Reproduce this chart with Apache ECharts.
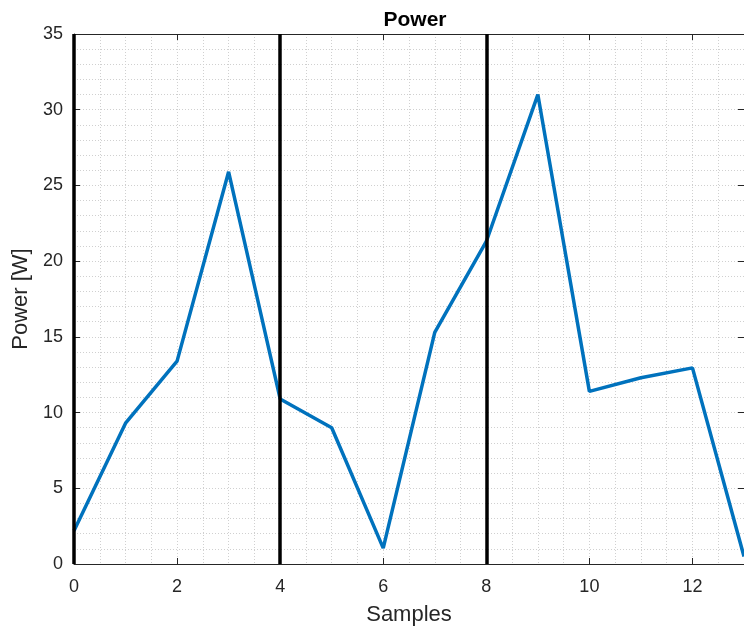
<!DOCTYPE html>
<html><head><meta charset="utf-8">
<script src="https://cdn.jsdelivr.net/npm/echarts@6/dist/echarts.min.js"></script>
<style>html,body{margin:0;padding:0;background:#fff}#c{width:744px;height:631px}</style>
</head><body><div id="c"></div>
<script>
const samples = [0,1,2,3,4,5,6,7,8,9,10,11,12,13];
const power = [2.2,9.3,13.4,25.9,10.9,9.0,1.05,15.3,21.3,31.0,11.4,12.3,12.95,0.5];
const vlines = [0,4,8];
const titleText = 'Power';
const xName = 'Samples';
const yName = 'Power [W]';

const txt = '#262626';
const font = 'Liberation Sans, Arial, Helvetica, sans-serif';
const chart = echarts.init(document.getElementById('c'));
const axCommon = {
  axisLine:{show:true,onZero:false,lineStyle:{color:txt,width:1}},
  axisTick:{show:true,inside:true,length:6,lineStyle:{color:txt,width:1}},
};
const gridLine = {color:'#d0d0d0',type:[1,2],width:1};
chart.setOption({
  animation:false,
  title:{text:titleText,left:410,textAlign:'center',top:5,textStyle:{fontFamily:font,fontSize:21,fontWeight:'bold',color:'#000'}},
  grid:{left:74,top:34,right:-3,bottom:66,containLabel:false},
  xAxis:[{
    type:'value',min:0,max:13,interval:2,position:'bottom',
    name:xName,nameLocation:'middle',nameGap:40,
    nameTextStyle:{fontFamily:font,fontSize:22,color:txt},
    axisLabel:{fontFamily:font,fontSize:18,color:txt,margin:14,showMaxLabel:false},
    ...axCommon,
    splitLine:{show:true,lineStyle:gridLine},
    minorTick:{show:false,splitNumber:4},
    minorSplitLine:{show:true,lineStyle:gridLine}
  },{
    type:'value',min:0,max:13,interval:2,position:'top',
    axisLabel:{show:false},...axCommon,splitLine:{show:false}
  }],
  yAxis:[{
    type:'value',min:0,max:35,interval:5,position:'left',
    name:yName,nameLocation:'middle',nameGap:40,
    nameTextStyle:{fontFamily:font,fontSize:22,color:txt},
    axisLabel:{fontFamily:font,fontSize:18,color:txt,margin:11},
    ...axCommon,
    splitLine:{show:true,lineStyle:gridLine},
    minorTick:{show:false,splitNumber:5},
    minorSplitLine:{show:true,lineStyle:gridLine}
  },{
    type:'value',min:0,max:35,interval:5,position:'right',
    axisLabel:{show:false},...axCommon,splitLine:{show:false}
  }],
  series:[{
    type:'line',
    data:samples.map((s,i)=>[s,power[i]]),
    showSymbol:false,symbol:'none',
    lineStyle:{color:'#0072BD',width:3.5},
    z:3
  },{
    type:'line',data:[],
    markLine:{
      silent:true,symbol:['none','none'],animation:false,
      label:{show:false},
      lineStyle:{color:'#000',width:3.5,type:'solid'},
      data:vlines.map(v=>({xAxis:v}))
    },
    z:4
  }]
});
</script></body></html>
